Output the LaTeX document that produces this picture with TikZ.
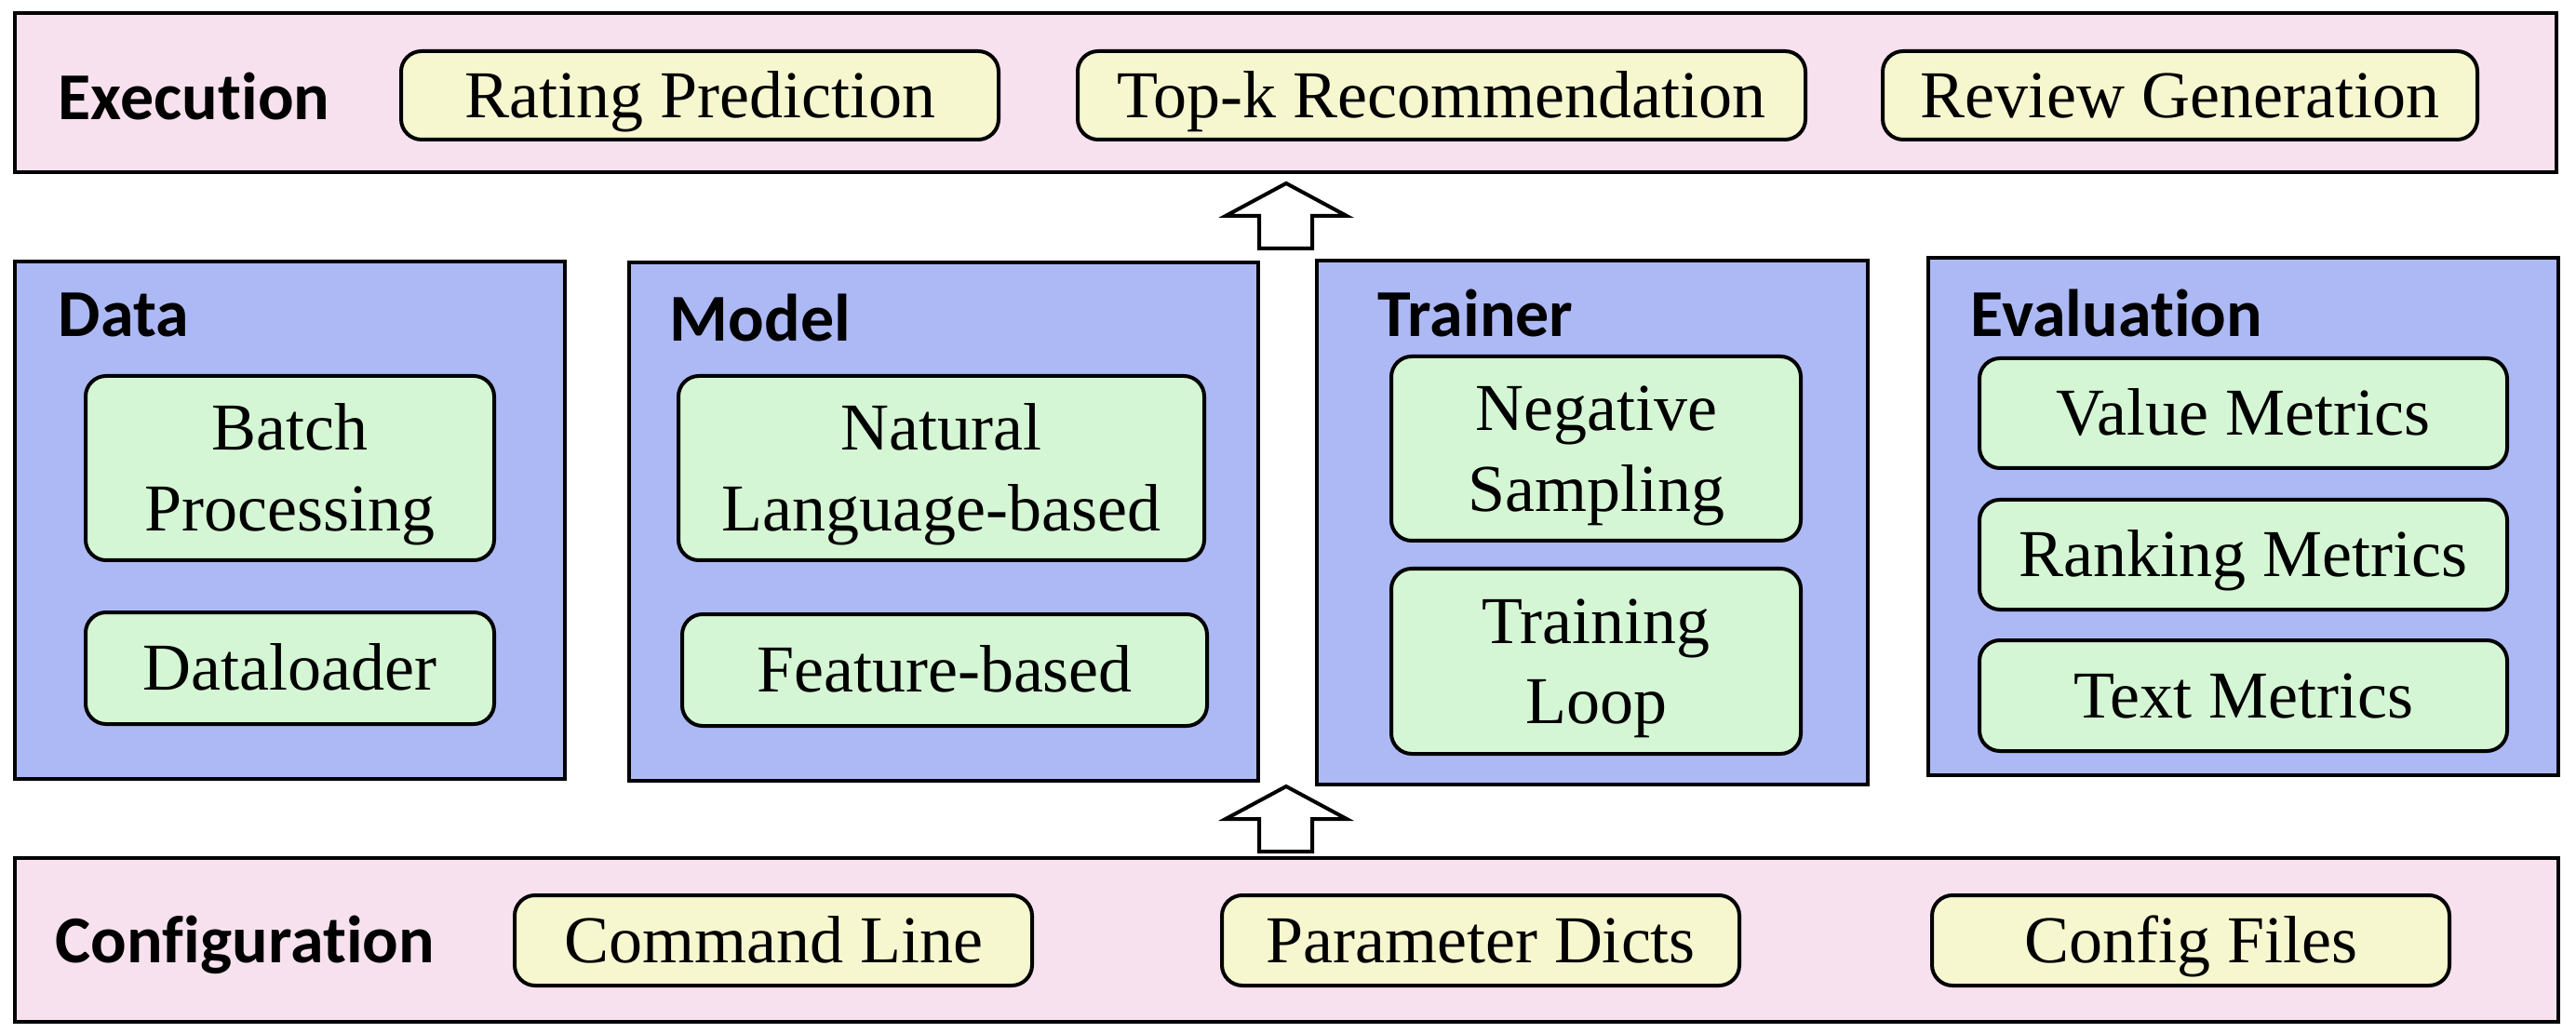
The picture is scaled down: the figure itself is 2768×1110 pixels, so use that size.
\documentclass[tikz,border=0pt]{standalone}
\usepackage{fontspec}
\setmainfont{Liberation Serif}
\newfontfamily\hfont{Carlito}[Ligatures=NoCommon]
\definecolor{pinkbg}{HTML}{F7E1EE}
\definecolor{bluebg}{HTML}{ADB9F4}
\definecolor{greenbg}{HTML}{D5F6D4}
\definecolor{yellowbg}{HTML}{F6F7CF}
% a line of box text: caps centred, descenders ignored for placement
\newcommand\cl[1]{\smash{#1}\rule{0pt}{0.662em}}
\begin{document}
\begin{tikzpicture}[x=0.25pt,y=-0.25pt,
  outerbox/.style={draw=black,line width=1pt,inner sep=0pt,outer sep=0pt},
  rowbox/.style={outerbox,fill=pinkbg},
  colbox/.style={outerbox,fill=bluebg},
  item/.style={draw=black,line width=1pt,rounded corners=5.5pt,inner sep=0pt,
    align=center,font=\fontsize{18}{21.6}\selectfont},
  yitem/.style={item,fill=yellowbg,minimum height=95*0.25pt},
  gitem/.style={item,fill=greenbg},
  head/.style={anchor=west,inner sep=0pt,font=\hfont\bfseries\fontsize{18}{21.6}\selectfont},
  blockarrow/.style={draw=black,line width=1pt,fill=white,line join=miter}
]
\useasboundingbox[fill=white] (0,0) rectangle (2768,1110);

% Execution row
\node[rowbox,minimum width=2731*0.25pt,minimum height=171*0.25pt] (exec) at (1381.5,99.5) {};
\node[head] (exech) at (62,104) {Execution};
\node[yitem,minimum width=642*0.25pt] (rating) at (752,102.5) {\cl{Rating Prediction}};
\node[yitem,minimum width=782*0.25pt] (topk) at (1549,102.5) {\cl{Top-k Recommendation}};
\node[yitem,minimum width=639*0.25pt] (review) at (2342.5,102.5) {\cl{Review Generation}};

% Columns
\node[colbox,minimum width=591*0.25pt,minimum height=556*0.25pt] (data) at (311.5,559) {};
\node[colbox,minimum width=676*0.25pt,minimum height=557*0.25pt] (model) at (1014,560.5) {};
\node[colbox,minimum width=592*0.25pt,minimum height=563*0.25pt] (trainer) at (1711,561.5) {};
\node[colbox,minimum width=677*0.25pt,minimum height=556*0.25pt] (eval) at (2410.5,555) {};

\node[head] (datah) at (62,338) {Data};
\node[head] (modelh) at (719,342) {Model};
\node[head] (trainerh) at (1480,337) {Trainer};
\node[head] (evalh) at (2117,337) {Evaluation};

\node[gitem,minimum width=439*0.25pt,minimum height=198*0.25pt,text depth=-4pt] (batch) at (311.5,503) {\cl{Batch}\\\cl{Processing}};
\node[gitem,minimum width=439*0.25pt,minimum height=120*0.25pt] (loader) at (311.5,718) {\cl{Dataloader}};
\node[gitem,minimum width=565*0.25pt,minimum height=198*0.25pt] (natural) at (1011.5,503) {\cl{Natural}\\\cl{Language-based}};
\node[gitem,minimum width=564*0.25pt,minimum height=120*0.25pt] (feature) at (1015,720) {\cl{Feature-based}};
\node[gitem,minimum width=440*0.25pt,minimum height=198*0.25pt] (negative) at (1715,482) {\cl{Negative}\\\cl{Sampling}};
\node[gitem,minimum width=440*0.25pt,minimum height=199*0.25pt] (training) at (1715,710.5) {\cl{Training}\\\cl{Loop}};
\node[gitem,minimum width=567*0.25pt,minimum height=118*0.25pt] (value) at (2410.5,444) {\cl{Value Metrics}};
\node[gitem,minimum width=567*0.25pt,minimum height=118*0.25pt] (ranking) at (2410.5,596) {\cl{Ranking Metrics}};
\node[gitem,minimum width=567*0.25pt,minimum height=119*0.25pt] (textm) at (2410.5,747.5) {\cl{Text Metrics}};

% Configuration row
\node[rowbox,minimum width=2733*0.25pt,minimum height=176*0.25pt] (config) at (1382.5,1010) {};
\node[head] (configh) at (59,1015) {Configuration};
\node[yitem,minimum width=556*0.25pt,minimum height=97*0.25pt] (cmd) at (831,1010.5) {\cl{Command Line}};
\node[yitem,minimum width=556*0.25pt,minimum height=97*0.25pt] (param) at (1591,1010.5) {\cl{Parameter Dicts}};
\node[yitem,minimum width=556*0.25pt,minimum height=97*0.25pt] (cfiles) at (2354,1010.5) {\cl{Config Files}};

% Block arrows
\draw[blockarrow] (1353,267) -- (1353,232) -- (1317,232) -- (1382,197) -- (1447,232) -- (1410,232) -- (1410,267) -- cycle;
\draw[blockarrow] (1353,915) -- (1353,880) -- (1317,880) -- (1382,845) -- (1447,880) -- (1410,880) -- (1410,915) -- cycle;
\end{tikzpicture}
\end{document}
